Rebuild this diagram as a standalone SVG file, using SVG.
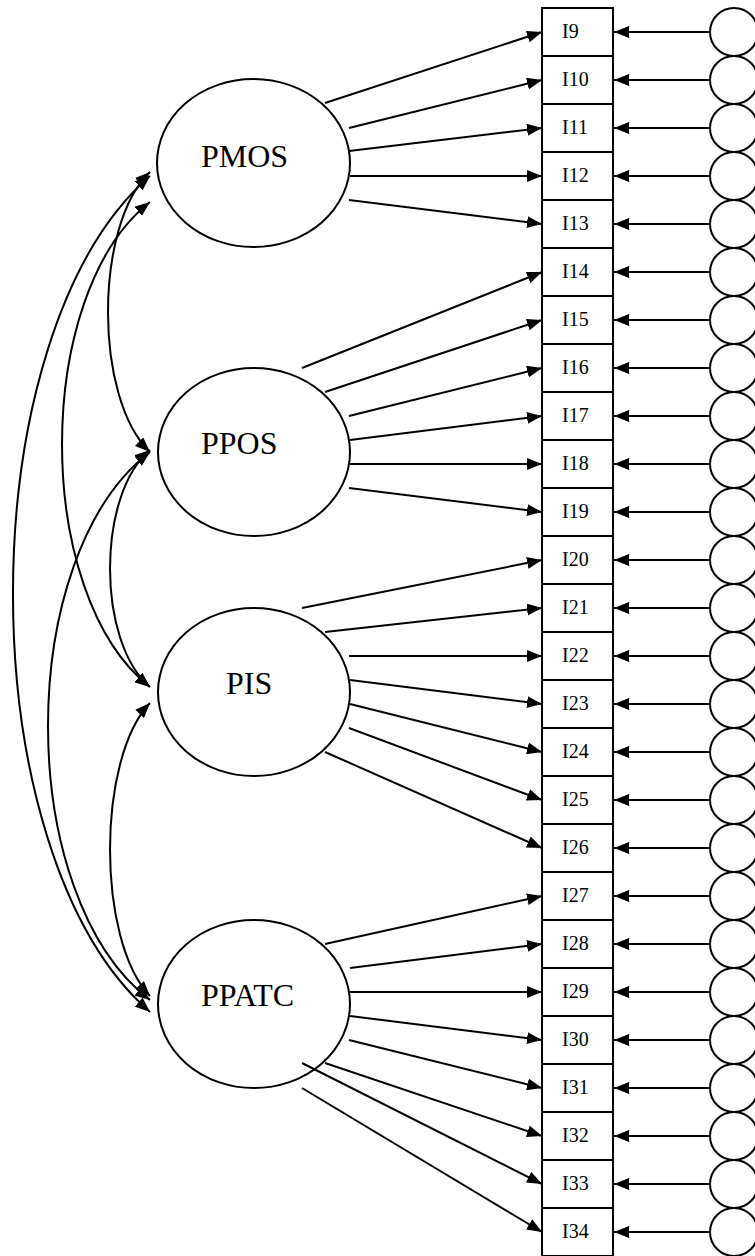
<svg xmlns="http://www.w3.org/2000/svg" width="755" height="1256" viewBox="0 0 755 1256">
  <style>
    .shape { fill: #ffffff; stroke: #000000; stroke-width: 2; }
    .link { fill: none; stroke: #000000; stroke-width: 2; }
    .factor-label { font-family: "Liberation Serif", "Times New Roman", serif; font-size: 32px; fill: #000000; }
    .item-label { font-family: "Liberation Serif", "Times New Roman", serif; font-size: 20px; fill: #000000; }
  </style>
  <defs>
    <marker id="arrow" markerUnits="userSpaceOnUse" markerWidth="15" markerHeight="12" refX="15" refY="6" orient="auto-start-reverse">
      <path d="M0,0 L15,6 L0,12 z" fill="#000000"/>
    </marker>
  </defs>

  <rect width="755" height="1256" fill="#ffffff"/>

  <!-- latent factors -->
  <g id="PMOS">
    <ellipse class="shape" cx="253.5" cy="163" rx="96.5" ry="84"/>
    <text class="factor-label" x="201" y="167">PMOS</text>
  </g>
  <g id="PPOS">
    <ellipse class="shape" cx="254" cy="452" rx="96" ry="84"/>
    <text class="factor-label" x="201" y="454">PPOS</text>
  </g>
  <g id="PIS">
    <ellipse class="shape" cx="254" cy="692" rx="96" ry="84"/>
    <text class="factor-label" x="226" y="694">PIS</text>
  </g>
  <g id="PPATC">
    <ellipse class="shape" cx="254" cy="1004" rx="96" ry="84"/>
    <text class="factor-label" x="201" y="1006">PPATC</text>
  </g>

  <!-- observed items -->
  <g id="I9"><rect class="shape" x="542" y="8" width="71" height="48"/><text class="item-label" x="562" y="38">I9</text></g>
  <g id="I10"><rect class="shape" x="542" y="56" width="71" height="48"/><text class="item-label" x="562" y="86">I10</text></g>
  <g id="I11"><rect class="shape" x="542" y="104" width="71" height="48"/><text class="item-label" x="562" y="134">I11</text></g>
  <g id="I12"><rect class="shape" x="542" y="152" width="71" height="48"/><text class="item-label" x="562" y="182">I12</text></g>
  <g id="I13"><rect class="shape" x="542" y="200" width="71" height="48"/><text class="item-label" x="562" y="230">I13</text></g>
  <g id="I14"><rect class="shape" x="542" y="248" width="71" height="48"/><text class="item-label" x="562" y="278">I14</text></g>
  <g id="I15"><rect class="shape" x="542" y="296" width="71" height="48"/><text class="item-label" x="562" y="326">I15</text></g>
  <g id="I16"><rect class="shape" x="542" y="344" width="71" height="48"/><text class="item-label" x="562" y="374">I16</text></g>
  <g id="I17"><rect class="shape" x="542" y="392" width="71" height="48"/><text class="item-label" x="562" y="422">I17</text></g>
  <g id="I18"><rect class="shape" x="542" y="440" width="71" height="48"/><text class="item-label" x="562" y="470">I18</text></g>
  <g id="I19"><rect class="shape" x="542" y="488" width="71" height="48"/><text class="item-label" x="562" y="518">I19</text></g>
  <g id="I20"><rect class="shape" x="542" y="536" width="71" height="48"/><text class="item-label" x="562" y="566">I20</text></g>
  <g id="I21"><rect class="shape" x="542" y="584" width="71" height="48"/><text class="item-label" x="562" y="614">I21</text></g>
  <g id="I22"><rect class="shape" x="542" y="632" width="71" height="48"/><text class="item-label" x="562" y="662">I22</text></g>
  <g id="I23"><rect class="shape" x="542" y="680" width="71" height="48"/><text class="item-label" x="562" y="710">I23</text></g>
  <g id="I24"><rect class="shape" x="542" y="728" width="71" height="48"/><text class="item-label" x="562" y="758">I24</text></g>
  <g id="I25"><rect class="shape" x="542" y="776" width="71" height="48"/><text class="item-label" x="562" y="806">I25</text></g>
  <g id="I26"><rect class="shape" x="542" y="824" width="71" height="48"/><text class="item-label" x="562" y="854">I26</text></g>
  <g id="I27"><rect class="shape" x="542" y="872" width="71" height="48"/><text class="item-label" x="562" y="902">I27</text></g>
  <g id="I28"><rect class="shape" x="542" y="920" width="71" height="48"/><text class="item-label" x="562" y="950">I28</text></g>
  <g id="I29"><rect class="shape" x="542" y="968" width="71" height="48"/><text class="item-label" x="562" y="998">I29</text></g>
  <g id="I30"><rect class="shape" x="542" y="1016" width="71" height="48"/><text class="item-label" x="562" y="1046">I30</text></g>
  <g id="I31"><rect class="shape" x="542" y="1064" width="71" height="48"/><text class="item-label" x="562" y="1094">I31</text></g>
  <g id="I32"><rect class="shape" x="542" y="1112" width="71" height="48"/><text class="item-label" x="562" y="1142">I32</text></g>
  <g id="I33"><rect class="shape" x="542" y="1160" width="71" height="48"/><text class="item-label" x="562" y="1190">I33</text></g>
  <g id="I34"><rect class="shape" x="542" y="1208" width="71" height="48"/><text class="item-label" x="562" y="1238">I34</text></g>

  <!-- error terms -->
  <g id="e9"><circle class="shape" cx="734" cy="32" r="24"/></g>
  <g id="e10"><circle class="shape" cx="734" cy="80" r="24"/></g>
  <g id="e11"><circle class="shape" cx="734" cy="128" r="24"/></g>
  <g id="e12"><circle class="shape" cx="734" cy="176" r="24"/></g>
  <g id="e13"><circle class="shape" cx="734" cy="224" r="24"/></g>
  <g id="e14"><circle class="shape" cx="734" cy="272" r="24"/></g>
  <g id="e15"><circle class="shape" cx="734" cy="320" r="24"/></g>
  <g id="e16"><circle class="shape" cx="734" cy="368" r="24"/></g>
  <g id="e17"><circle class="shape" cx="734" cy="416" r="24"/></g>
  <g id="e18"><circle class="shape" cx="734" cy="464" r="24"/></g>
  <g id="e19"><circle class="shape" cx="734" cy="512" r="24"/></g>
  <g id="e20"><circle class="shape" cx="734" cy="560" r="24"/></g>
  <g id="e21"><circle class="shape" cx="734" cy="608" r="24"/></g>
  <g id="e22"><circle class="shape" cx="734" cy="656" r="24"/></g>
  <g id="e23"><circle class="shape" cx="734" cy="704" r="24"/></g>
  <g id="e24"><circle class="shape" cx="734" cy="752" r="24"/></g>
  <g id="e25"><circle class="shape" cx="734" cy="800" r="24"/></g>
  <g id="e26"><circle class="shape" cx="734" cy="848" r="24"/></g>
  <g id="e27"><circle class="shape" cx="734" cy="896" r="24"/></g>
  <g id="e28"><circle class="shape" cx="734" cy="944" r="24"/></g>
  <g id="e29"><circle class="shape" cx="734" cy="992" r="24"/></g>
  <g id="e30"><circle class="shape" cx="734" cy="1040" r="24"/></g>
  <g id="e31"><circle class="shape" cx="734" cy="1088" r="24"/></g>
  <g id="e32"><circle class="shape" cx="734" cy="1136" r="24"/></g>
  <g id="e33"><circle class="shape" cx="734" cy="1184" r="24"/></g>
  <g id="e34"><circle class="shape" cx="734" cy="1232" r="24"/></g>

  <g id="connectors" class="link">
    <!-- factor loadings -->
    <line class="link" x1="325" y1="103" x2="542" y2="32" marker-end="url(#arrow)"/>
    <line class="link" x1="349" y1="128" x2="542" y2="80" marker-end="url(#arrow)"/>
    <line class="link" x1="349" y1="151" x2="542" y2="128" marker-end="url(#arrow)"/>
    <line class="link" x1="350" y1="176" x2="542" y2="176" marker-end="url(#arrow)"/>
    <line class="link" x1="349" y1="200" x2="542" y2="224" marker-end="url(#arrow)"/>

    <line class="link" x1="302" y1="368" x2="542" y2="272" marker-end="url(#arrow)"/>
    <line class="link" x1="325" y1="392" x2="542" y2="320" marker-end="url(#arrow)"/>
    <line class="link" x1="349" y1="416" x2="542" y2="368" marker-end="url(#arrow)"/>
    <line class="link" x1="350" y1="440" x2="542" y2="416" marker-end="url(#arrow)"/>
    <line class="link" x1="350" y1="464" x2="542" y2="464" marker-end="url(#arrow)"/>
    <line class="link" x1="349" y1="488" x2="542" y2="512" marker-end="url(#arrow)"/>

    <line class="link" x1="302" y1="608" x2="542" y2="560" marker-end="url(#arrow)"/>
    <line class="link" x1="325" y1="632" x2="542" y2="608" marker-end="url(#arrow)"/>
    <line class="link" x1="349" y1="656" x2="542" y2="656" marker-end="url(#arrow)"/>
    <line class="link" x1="350" y1="680" x2="542" y2="704" marker-end="url(#arrow)"/>
    <line class="link" x1="350" y1="704" x2="542" y2="752" marker-end="url(#arrow)"/>
    <line class="link" x1="349" y1="728" x2="542" y2="800" marker-end="url(#arrow)"/>
    <line class="link" x1="325" y1="752" x2="542" y2="848" marker-end="url(#arrow)"/>

    <line class="link" x1="325" y1="944" x2="542" y2="896" marker-end="url(#arrow)"/>
    <line class="link" x1="350" y1="968" x2="542" y2="944" marker-end="url(#arrow)"/>
    <line class="link" x1="350" y1="992" x2="542" y2="992" marker-end="url(#arrow)"/>
    <line class="link" x1="350" y1="1016" x2="542" y2="1040" marker-end="url(#arrow)"/>
    <line class="link" x1="349" y1="1040" x2="542" y2="1088" marker-end="url(#arrow)"/>
    <line class="link" x1="325" y1="1063" x2="542" y2="1136" marker-end="url(#arrow)"/>
    <line class="link" x1="302" y1="1063" x2="542" y2="1184" marker-end="url(#arrow)"/>
    <line class="link" x1="302" y1="1088" x2="542" y2="1232" marker-end="url(#arrow)"/>

    <!-- error paths -->
    <line class="link" x1="710" y1="32" x2="614" y2="32" marker-end="url(#arrow)"/>
    <line class="link" x1="710" y1="80" x2="614" y2="80" marker-end="url(#arrow)"/>
    <line class="link" x1="710" y1="128" x2="614" y2="128" marker-end="url(#arrow)"/>
    <line class="link" x1="710" y1="176" x2="614" y2="176" marker-end="url(#arrow)"/>
    <line class="link" x1="710" y1="224" x2="614" y2="224" marker-end="url(#arrow)"/>
    <line class="link" x1="710" y1="272" x2="614" y2="272" marker-end="url(#arrow)"/>
    <line class="link" x1="710" y1="320" x2="614" y2="320" marker-end="url(#arrow)"/>
    <line class="link" x1="710" y1="368" x2="614" y2="368" marker-end="url(#arrow)"/>
    <line class="link" x1="710" y1="416" x2="614" y2="416" marker-end="url(#arrow)"/>
    <line class="link" x1="710" y1="464" x2="614" y2="464" marker-end="url(#arrow)"/>
    <line class="link" x1="710" y1="512" x2="614" y2="512" marker-end="url(#arrow)"/>
    <line class="link" x1="710" y1="560" x2="614" y2="560" marker-end="url(#arrow)"/>
    <line class="link" x1="710" y1="608" x2="614" y2="608" marker-end="url(#arrow)"/>
    <line class="link" x1="710" y1="656" x2="614" y2="656" marker-end="url(#arrow)"/>
    <line class="link" x1="710" y1="704" x2="614" y2="704" marker-end="url(#arrow)"/>
    <line class="link" x1="710" y1="752" x2="614" y2="752" marker-end="url(#arrow)"/>
    <line class="link" x1="710" y1="800" x2="614" y2="800" marker-end="url(#arrow)"/>
    <line class="link" x1="710" y1="848" x2="614" y2="848" marker-end="url(#arrow)"/>
    <line class="link" x1="710" y1="896" x2="614" y2="896" marker-end="url(#arrow)"/>
    <line class="link" x1="710" y1="944" x2="614" y2="944" marker-end="url(#arrow)"/>
    <line class="link" x1="710" y1="992" x2="614" y2="992" marker-end="url(#arrow)"/>
    <line class="link" x1="710" y1="1040" x2="614" y2="1040" marker-end="url(#arrow)"/>
    <line class="link" x1="710" y1="1088" x2="614" y2="1088" marker-end="url(#arrow)"/>
    <line class="link" x1="710" y1="1136" x2="614" y2="1136" marker-end="url(#arrow)"/>
    <line class="link" x1="710" y1="1184" x2="614" y2="1184" marker-end="url(#arrow)"/>
    <line class="link" x1="710" y1="1232" x2="614" y2="1232" marker-end="url(#arrow)"/>

    <!-- factor covariances (double-headed arcs) -->
    <path class="link" d="M150,172 C94,225 94,399 150,452" marker-start="url(#arrow)" marker-end="url(#arrow)"/>
    <path class="link" d="M150,202 C32.7,294 32.7,595 150,687" marker-start="url(#arrow)" marker-end="url(#arrow)"/>
    <path class="link" d="M150,176 C-32.7,335 -32.7,853 150,1012" marker-start="url(#arrow)" marker-end="url(#arrow)"/>
    <path class="link" d="M150,450 C96.7,495 96.7,642 150,687" marker-start="url(#arrow)" marker-end="url(#arrow)"/>
    <path class="link" d="M150,452 C14,556 14,896 150,1000" marker-start="url(#arrow)" marker-end="url(#arrow)"/>
    <path class="link" d="M150,703 C96.7,759 96.7,940 150,996" marker-start="url(#arrow)" marker-end="url(#arrow)"/>
  </g>
</svg>
